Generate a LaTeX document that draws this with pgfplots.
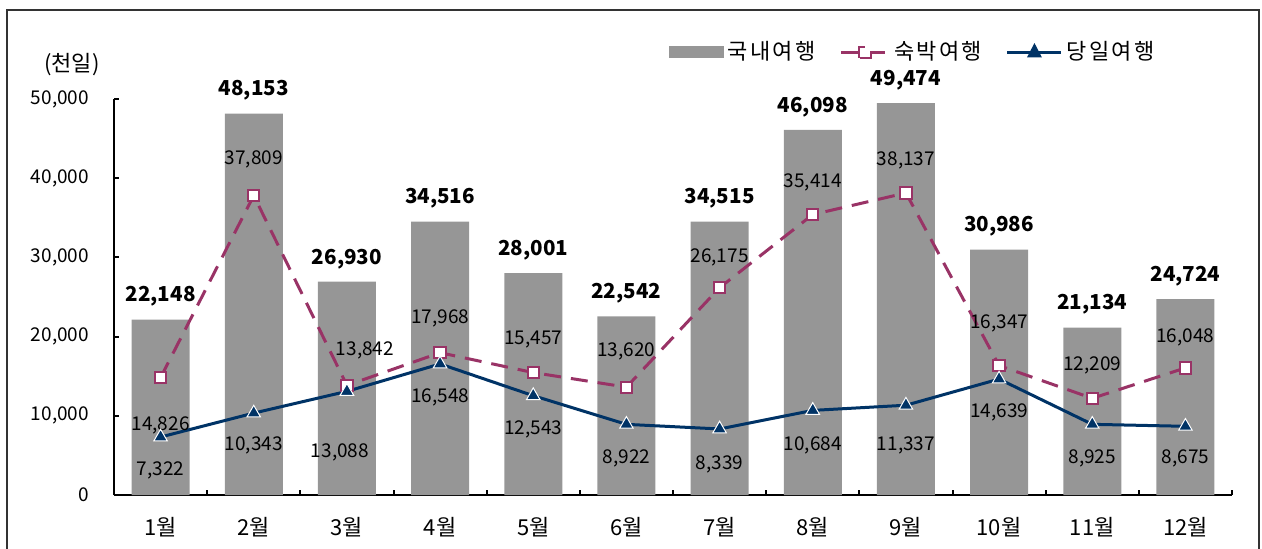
\documentclass[border=0pt]{standalone}
\usepackage{pgfplots}
\pgfplotsset{compat=1.18}
\usepackage{pgfplotstable}
\usepackage{fontspec}
\setmainfont{Noto Sans CJK KR}
\newfontfamily\legfont[LetterSpace=10]{Noto Sans CJK KR}
\definecolor{bargray}{RGB}{150,150,150}
\definecolor{maroon}{RGB}{153,51,102}
\definecolor{navy}{RGB}{0,51,102}

\pgfplotstableread{
x y
0 22148
1 48153
2 26930
3 34516
4 28001
5 22542
6 34515
7 46098
8 49474
9 30986
10 21134
11 24724
}\domestic

\pgfplotstableread{
x y dx dy
0 14826 0 -24
1 37809 0 18
2 13842 9 17.5
3 17968 0 17.3
4 15457 0 16.3
5 13620 0 18
6 26175 0 15.3
7 35414 0 16
8 38137 0 16.5
9 16347 0 21
10 12209 0 16.6
11 16048 0 15.5
}\overnight

\pgfplotstableread{
x y dx dy
0 7322 0 -16.5
1 10343 0 -16
2 13088 -3.5 -30.3
3 16548 0 -16.5
4 12543 0 -17
5 8922 0 -17
6 8339 0 -17.5
7 10684 0 -17.3
8 11337 0 -20
9 14639 0 -16.5
10 8925 0 -17
11 8675 0 -16
}\daytrip

\begin{document}
\begin{tikzpicture}[font=\fontsize{9.5}{11}\selectfont]
\useasboundingbox (-57pt,-26.5pt) rectangle (574pt,247.5pt);
\draw[line width=1pt, black!80] (-53.5pt,-40pt) -- (-53.5pt,242.5pt) -- (572.5pt,242.5pt) -- (572.5pt,-40pt);
\begin{axis}[
  at={(0pt,0pt)}, anchor=south west,
  scale only axis, width=559pt, height=198pt,
  xmin=-0.5, xmax=11.5, ymin=0, ymax=50000,
  axis lines=left, axis line style={-, line width=1pt, black},
  tick style={line width=1pt, black},
  tick align=inside, major tick length=2.5pt,
  ytick={0,10000,20000,30000,40000,50000},
  scaled y ticks=false,
  /pgf/number format/.cd, 1000 sep={,}, fixed, precision=0, assume math mode=true, /pgfplots/.cd,
  yticklabel style={xshift=-9pt, font=\fontsize{9.5}{11}\selectfont},
  xtick={-0.5,0.5,...,11.5}, xticklabels={},
  extra x ticks={0,1,2,3,4,5,6,7,8,9,10,11},
  extra x tick labels={1월,2월,3월,4월,5월,6월,7월,8월,9월,10월,11월,12월},
  extra x tick style={major tick length=0pt, xticklabel style={yshift=-7.5pt, font=\fontsize{11}{13}\selectfont}},
  legend columns=3,
  legend style={draw=none, fill=none, at={(0.94,1.118)}, anchor=east,
    font=\legfont\fontsize{11}{13}\selectfont,
    /tikz/every even column/.append style={column sep=10pt}},
  clip=false,
]
\addplot[ybar, bar width=29pt, fill=bargray, draw=none,
  nodes near coords,
  every node near coord/.append style={font=\fontsize{10.3}{12}\selectfont\bfseries, anchor=center, yshift=11.5pt, text=black},
  legend image code/.code={\fill[bargray] (0pt,-3pt) rectangle (27.5pt,3pt);}
] table[x=x,y=y] {\domestic};
\addlegendentry{국내여행}

\addplot[color=maroon, line width=1.5pt, dash pattern=on 8.5pt off 5pt,
  mark=square*, mark size=2.8pt, mark options={solid, fill=white, draw=maroon, line width=1pt},
  visualization depends on={\thisrow{dx} \as \lblx},
  visualization depends on={\thisrow{dy} \as \lbly},
  nodes near coords,
  every node near coord/.append style={anchor=center, xshift=\lblx, yshift=\lbly, text=black, font=\fontsize{9.5}{11}\selectfont},
  legend image code/.code={
    \draw[maroon, line width=1.5pt] (0pt,0pt) -- (24pt,0pt);
    \draw[maroon, fill=white, line width=1pt] (9.2pt,-2.8pt) rectangle (14.8pt,2.8pt);}
] table[x=x,y=y] {\overnight};
\addlegendentry{숙박여행}

\addplot[color=navy, line width=1.5pt,
  mark=triangle*, mark size=3.9pt, mark options={solid, fill=navy, draw=white, line width=0.5pt},
  visualization depends on={\thisrow{dx} \as \lblx},
  visualization depends on={\thisrow{dy} \as \lbly},
  nodes near coords,
  every node near coord/.append style={anchor=center, xshift=\lblx, yshift=\lbly, text=black, font=\fontsize{9.5}{11}\selectfont},
  legend image code/.code={
    \draw[navy, line width=1.5pt] (0pt,0pt) -- (27pt,0pt);
    \fill[navy] (13.5pt,3pt) -- (16pt,-1.8pt) -- (11pt,-1.8pt) -- cycle;}
] table[x=x,y=y] {\daytrip};
\addlegendentry{당일여행}

\node[font=\fontsize{11}{13}\selectfont] at (rel axis cs:-0.0376,1.086) {(천일)};
\end{axis}
\end{tikzpicture}
\end{document}
